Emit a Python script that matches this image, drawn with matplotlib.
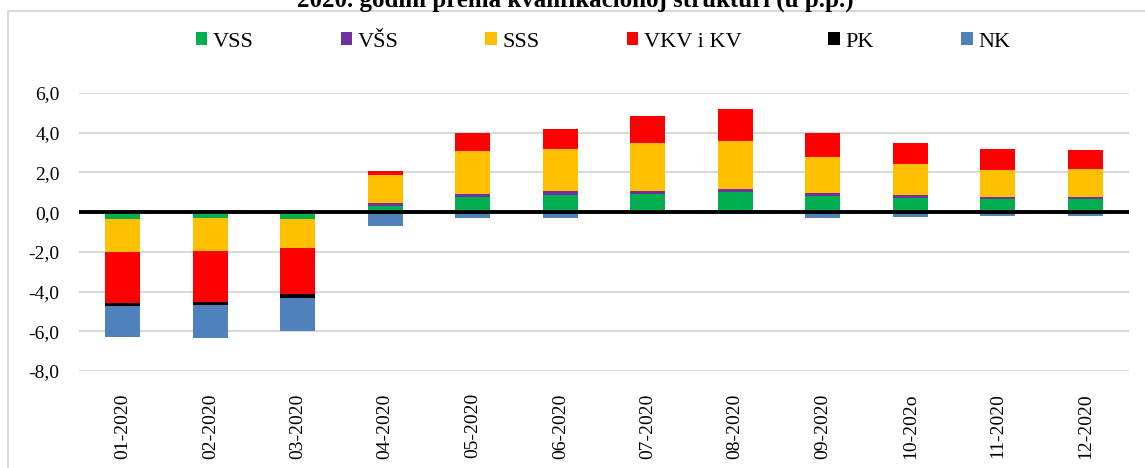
import numpy as np
import matplotlib.pyplot as plt
from matplotlib.patches import Rectangle

months = ['01-2020', '02-2020', '03-2020', '04-2020', '05-2020', '06-2020',
          '07-2020', '08-2020', '09-2020', '10-202o', '11-2020', '12-2020']

vss = [-0.33, -0.28, -0.33, 0.33, 0.77, 0.88, 0.93, 0.99, 0.81, 0.71, 0.66, 0.66]
vss2 = [-0.02, -0.02, -0.02, 0.14, 0.16, 0.19, 0.15, 0.17, 0.13, 0.13, 0.10, 0.08]
sss = [-1.65, -1.66, -1.44, 1.41, 2.14, 2.12, 2.41, 2.43, 1.86, 1.58, 1.38, 1.42]
vkv = [-2.57, -2.55, -2.33, 0.20, 0.91, 1.01, 1.34, 1.58, 1.17, 1.08, 1.03, 0.98]
pk = [-0.16, -0.17, -0.18, -0.10, -0.05, -0.03, -0.05, -0.02, -0.05, -0.05, -0.04, -0.04]
nk = [-1.57, -1.68, -1.68, -0.58, -0.27, -0.24, -0.05, 0.0, -0.27, -0.17, -0.16, -0.16]

series = [('VSS', vss, '#00B050'),
          ('VŠS', vss2, '#7030A0'),
          ('SSS', sss, '#FFC000'),
          ('VKV i KV', vkv, '#FF0000'),
          ('PK', pk, '#000000'),
          ('NK', nk, '#4F81BD')]

plt.rcParams['font.family'] = ['Liberation Serif', 'DejaVu Serif']

fig = plt.figure(figsize=(11.45, 4.68), dpi=100)
ax = fig.add_axes([79 / 1145, 1 - 371 / 468, 1050 / 1145, 278 / 468])

x = np.arange(len(months))
pos_bottom = np.zeros(len(months))
neg_bottom = np.zeros(len(months))
for name, vals, color in series:
    vals = np.asarray(vals)
    bottom = np.where(vals >= 0, pos_bottom, neg_bottom)
    ax.bar(x, vals, 0.4, bottom=bottom, color=color, label=name, zorder=2)
    pos_bottom += np.where(vals >= 0, vals, 0)
    neg_bottom += np.where(vals < 0, vals, 0)

ax.axhline(0, color='black', lw=2.8, zorder=3)
ax.set_ylim(-8, 6)
ax.set_xlim(-0.5, len(months) - 0.5)
ax.set_yticks(np.arange(-8, 7, 2))
ax.set_yticklabels([f'{v:.1f}'.replace('.', ',') for v in np.arange(-8, 7, 2)], fontsize=14)
ax.set_xticks(x)
ax.set_xticklabels(months, rotation=90, fontsize=14)
ax.tick_params(axis='y', length=0, pad=14)
ax.tick_params(axis='x', length=0, pad=16)
ax.grid(axis='y', color='#d9d9d9', lw=1.5, zorder=0)
for s in ax.spines.values():
    s.set_visible(False)

fig.legend(loc='center', bbox_to_anchor=(603 / 1145, 1 - 42 / 468), ncol=6,
           frameon=False, fontsize=16, handlelength=0.53, handleheight=0.53,
           handletextpad=0.25, columnspacing=3.9)

fig.patches.append(Rectangle((8 / 1145, -0.1), 1.2, 1.1 - 11 / 468,
                             transform=fig.transFigure, fill=False,
                             edgecolor='#d9d9d9', lw=1.5))
fig.text(575 / 1145, 1 - 7 / 468, '2020. godini prema kvalifikacionoj strukturi (u p.p.)',
         ha='center', va='baseline', fontsize=18, fontweight='bold')

plt.savefig('out.png')
